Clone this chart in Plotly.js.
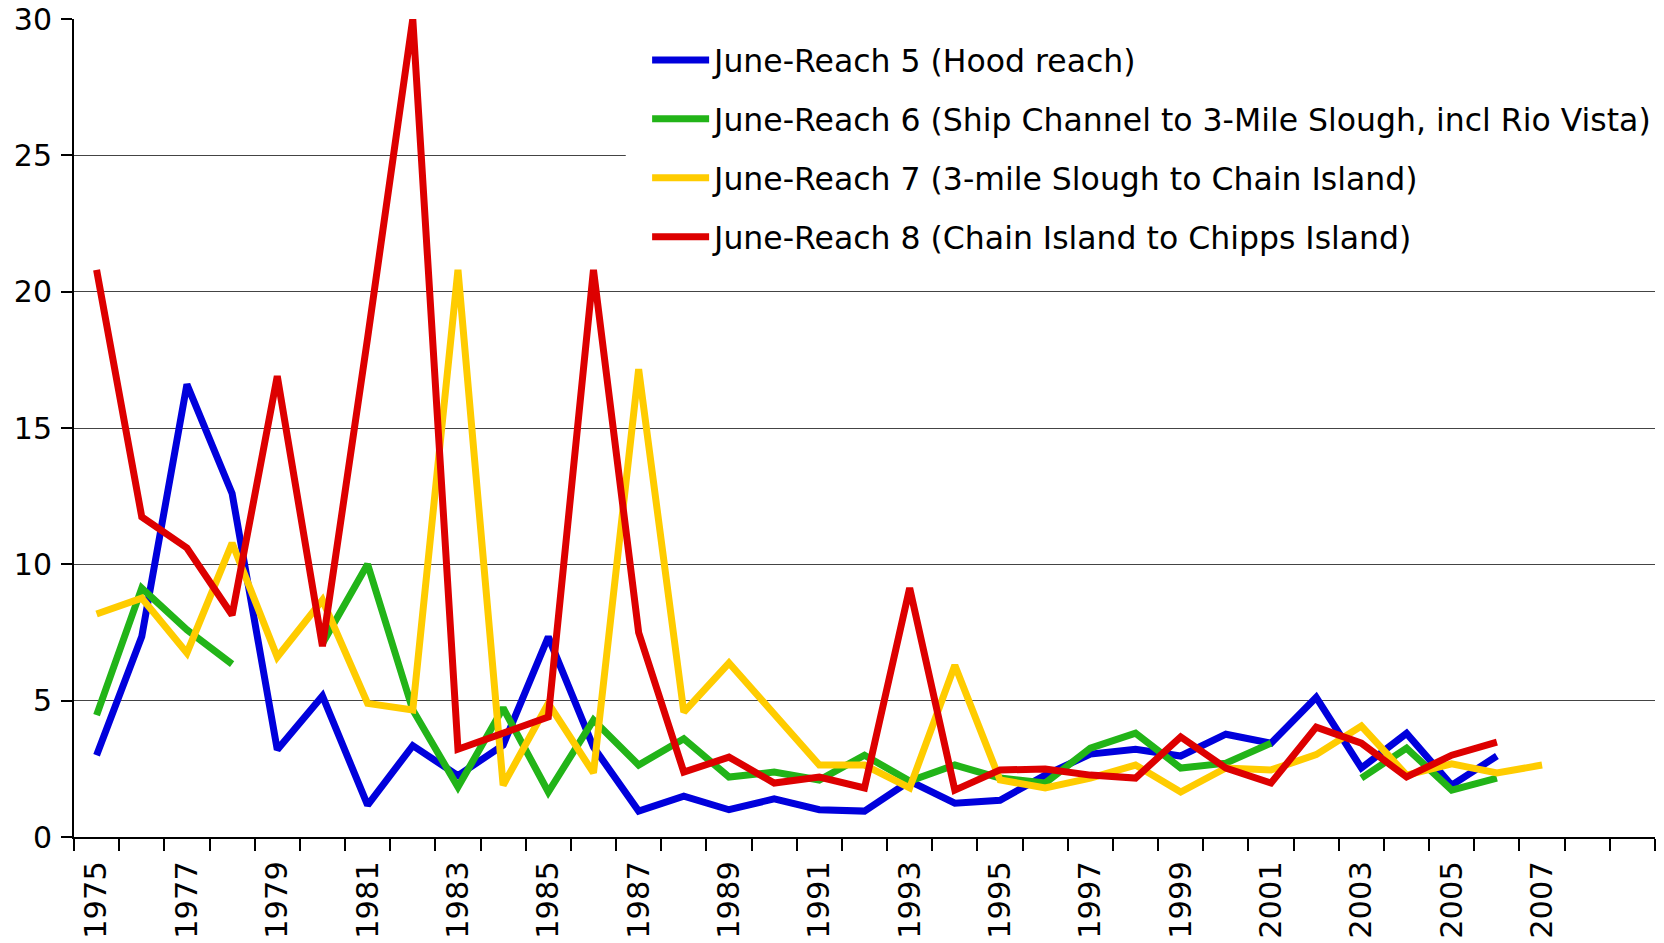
<!DOCTYPE html>
<html>
<head>
<meta charset="utf-8">
<script src="https://cdn.plot.ly/plotly-3.0.1.min.js"></script>
<style>html,body{margin:0;padding:0;background:#fff;}#chart{width:1664px;height:943px;}</style>
</head>
<body>
<div id="chart"></div>
<script>
const years = [1975,1976,1977,1978,1979,1980,1981,1982,1983,1984,1985,1986,1987,1988,1989,1990,1991,1992,1993,1994,1995,1996,1997,1998,1999,2000,2001,2002,2003,2004,2005,2006,2007];
const xTickYears = [1975,1977,1979,1981,1983,1985,1987,1989,1991,1993,1995,1997,1999,2001,2003,2005,2007];
const seriesNames = [
  "June-Reach 5 (Hood reach)",
  "June-Reach 6 (Ship Channel to 3-Mile Slough, incl Rio Vista)",
  "June-Reach 7 (3-mile Slough to Chain Island)",
  "June-Reach 8 (Chain Island to Chipps Island)"
];
const reach5 = [3.0,7.35,16.6,12.6,3.2,5.17,1.17,3.35,2.25,3.37,7.34,3.3,0.95,1.5,1.0,1.4,1.0,0.95,2.05,1.24,1.35,2.27,3.04,3.22,2.97,3.77,3.44,5.12,2.53,3.8,1.9,2.97,null];
const reach6 = [4.47,9.13,7.6,6.34,null,7.1,10.0,4.66,1.83,4.73,1.65,4.29,2.64,3.6,2.2,2.38,2.09,3.0,2.05,2.64,2.16,1.98,3.26,3.81,2.53,2.71,3.44,null,2.16,3.26,1.72,2.16,null];
const reach7 = [8.18,8.76,6.75,10.78,6.6,8.69,4.9,4.66,20.8,1.9,4.9,2.35,17.16,4.58,6.38,4.47,2.64,2.64,1.8,6.3,2.09,1.8,2.16,2.64,1.65,2.53,2.46,3.02,4.07,2.27,2.68,2.35,2.64];
const reach8 = [20.8,11.74,10.6,8.14,16.9,7.0,18.3,30.0,3.22,3.8,4.4,20.8,7.5,2.38,2.93,1.98,2.2,1.8,9.13,1.72,2.46,2.49,2.27,2.16,3.67,2.53,1.98,4.03,3.44,2.2,3.0,3.48,null];
const yTicks = [0,5,10,15,20,25,30];
const colors = ["rgb(0,0,220)","rgb(34,180,24)","rgb(255,204,0)","rgb(221,0,0)"];
const allSeries = [reach5, reach6, reach7, reach8];

const traces = allSeries.map((vals, i) => ({
  type: "scatter",
  mode: "lines",
  x: years,
  y: vals,
  name: seriesNames[i],
  legendgroup: "g" + i,
  connectgaps: false,
  line: {color: colors[i], width: 7, shape: "linear"},
  hoverinfo: "x+y+name"
}));

const layout = {
  width: 1664,
  height: 943,
  margin: {l: 74, r: 9, t: 19, b: 106, autoexpand: false},
  paper_bgcolor: "#fff",
  plot_bgcolor: "#fff",
  font: {family: "DejaVu Sans, Verdana, sans-serif", color: "#000", size: 30},
  showlegend: true,
  legend: {
    x: 0.3625, xanchor: "left",
    y: 0.983, yanchor: "top",
    bgcolor: "rgba(0,0,0,0)",
    borderwidth: 0,
    font: {size: 31.5, color: "#000"},
    itemwidth: 57,
    traceorder: "grouped",
    tracegroupgap: 15
  },
  shapes: [{
    type: "rect", xref: "paper", yref: "paper", layer: "above",
    x0: 0.349, x1: 1.01, y0: 0.69, y1: 0.985,
    fillcolor: "#fff", line: {width: 0}
  }],
  xaxis: {
    type: "linear",
    range: [1974.5, 2009.5],
    tickmode: "array",
    tickvals: xTickYears,
    ticks: "",
    tickangle: -90,
    ticklabelstandoff: 10,
    showgrid: false,
    zeroline: false,
    showline: true,
    linecolor: "#000",
    linewidth: 2,
    tickfont: {size: 30.5},
    minor: {ticks: "outside", tick0: 1974.5, dtick: 1, ticklen: 12, tickwidth: 2, tickcolor: "#000", showgrid: false}
  },
  yaxis: {
    range: [0, 30],
    tickvals: yTicks,
    ticks: "outside",
    ticklen: 11,
    tickwidth: 2,
    tickcolor: "#000",
    ticklabelstandoff: 3,
    showgrid: true,
    gridcolor: "#444",
    gridwidth: 1,
    zeroline: false,
    showline: true,
    linecolor: "#000",
    linewidth: 2,
    tickfont: {size: 30}
  }
};

Plotly.newPlot("chart", traces, layout, {displayModeBar: false, staticPlot: true});
</script>
</body>
</html>
